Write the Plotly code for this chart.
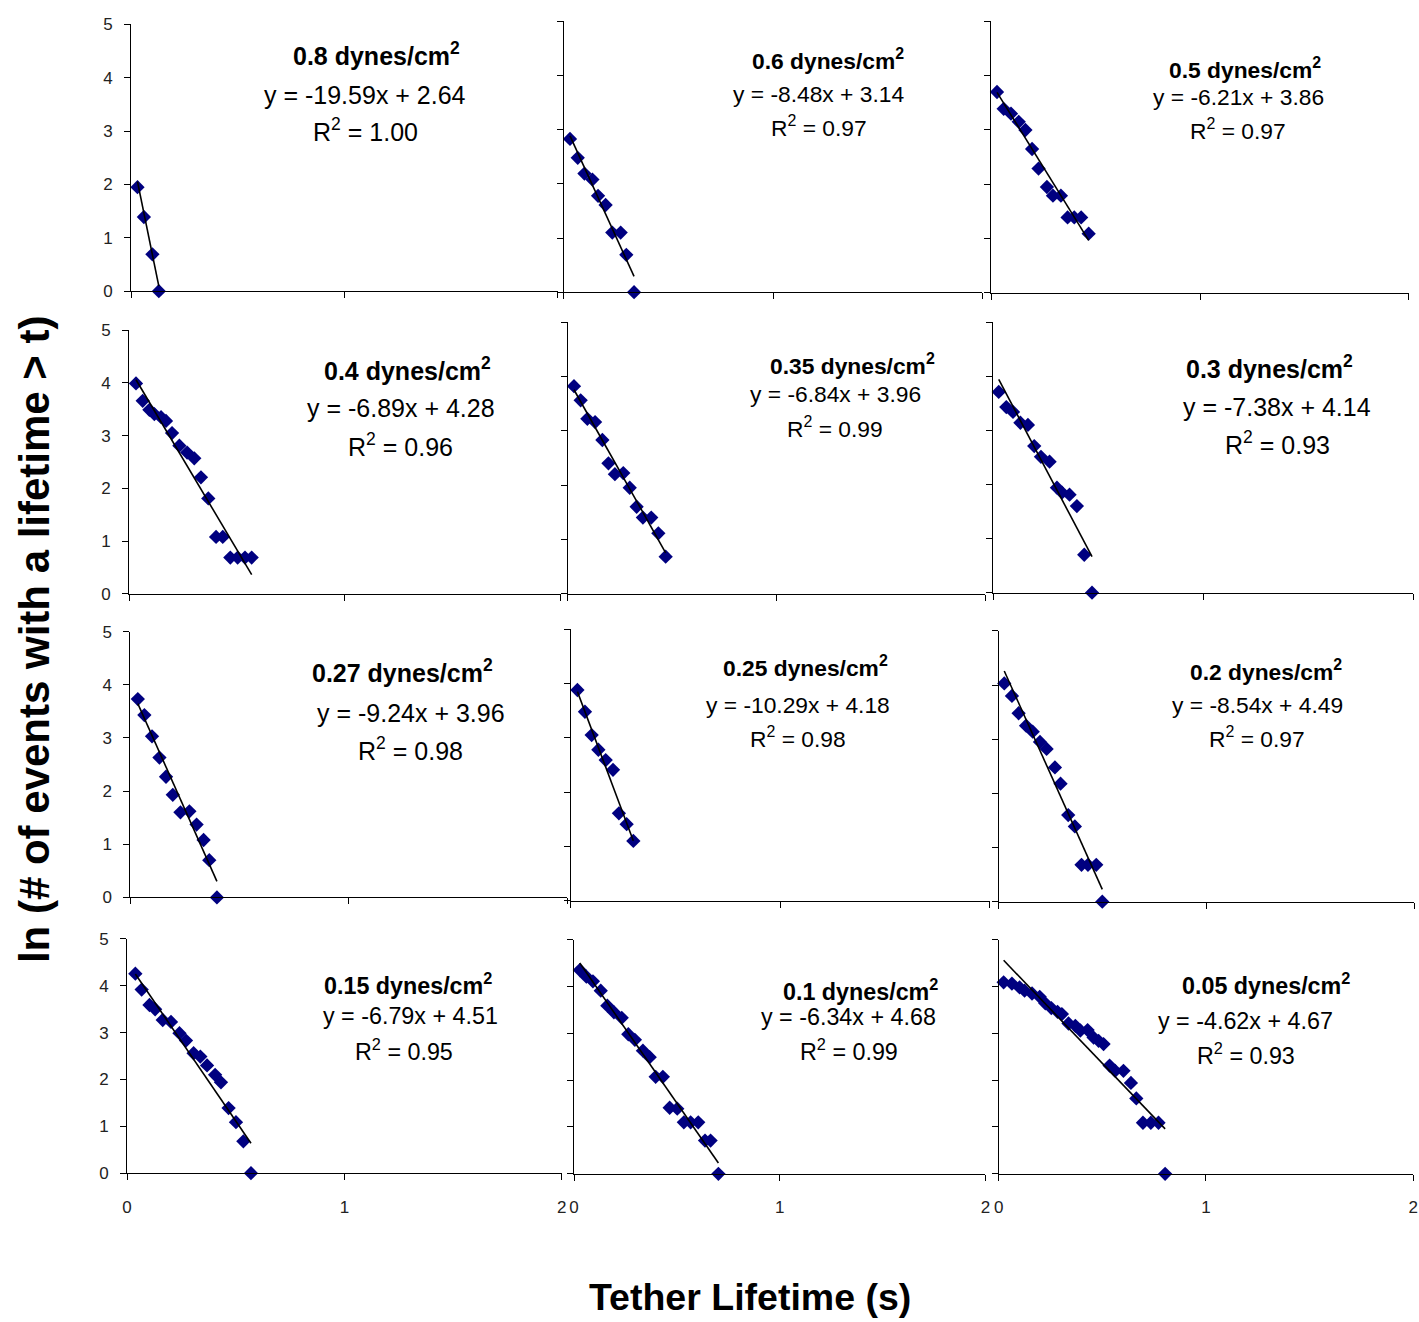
import plotly.graph_objects as go

W, H = 1419, 1322
FONT = "Liberation Sans, Arial, sans-serif"
# empirical correction of the page-to-picture mapping (measured on an earlier render)
A_X, C_X = 0.9938, 3.8
A_Y, C_Y = 0.9864, 7.6


def px_x(p):
    return ((p - C_X) / A_X) / W


def px_y(p):
    return 1 - ((p - C_Y) / A_Y) / H


# ---------------- data ----------------
shear_labels = ["0.8", "0.6", "0.5", "0.4", "0.35", "0.3",
                "0.27", "0.25", "0.2", "0.15", "0.1", "0.05"]

x_08 = [0.03, 0.06, 0.10, 0.13]
y_08 = [1.95, 1.39, 0.69, 0.0]

x_06 = [0.03, 0.067, 0.099, 0.137, 0.164, 0.20, 0.232, 0.272, 0.299, 0.336]
y_06 = [2.83, 2.48, 2.19, 2.08, 1.78, 1.61, 1.10, 1.10, 0.69, 0.0]

x_05 = [0.027, 0.059, 0.094, 0.131, 0.163, 0.195, 0.226, 0.266, 0.295, 0.333, 0.365, 0.397, 0.43, 0.466]
y_05 = [3.70, 3.39, 3.30, 3.15, 3.00, 2.65, 2.29, 1.95, 1.79, 1.79, 1.39, 1.39, 1.39, 1.09]

x_04 = [0.032, 0.063, 0.094, 0.117, 0.148, 0.171, 0.199, 0.233, 0.269, 0.302, 0.333, 0.367, 0.403, 0.434, 0.469, 0.503, 0.537, 0.568]
y_04 = [3.99, 3.66, 3.49, 3.41, 3.35, 3.28, 3.05, 2.81, 2.68, 2.57, 2.21, 1.81, 1.08, 1.08, 0.69, 0.69, 0.69, 0.69]

x_035 = [0.030, 0.062, 0.094, 0.131, 0.166, 0.195, 0.226, 0.266, 0.297, 0.330, 0.360, 0.400, 0.434, 0.469]
y_035 = [3.82, 3.56, 3.22, 3.16, 2.83, 2.40, 2.20, 2.22, 1.95, 1.60, 1.40, 1.40, 1.11, 0.68]

x_03 = [0.027, 0.063, 0.095, 0.130, 0.166, 0.196, 0.228, 0.269, 0.304, 0.328, 0.364, 0.399, 0.434, 0.471]
y_03 = [3.71, 3.43, 3.34, 3.14, 3.10, 2.71, 2.51, 2.42, 1.94, 1.85, 1.81, 1.60, 0.70, 0.0]

x_027 = [0.034, 0.064, 0.099, 0.133, 0.163, 0.194, 0.229, 0.270, 0.303, 0.335, 0.361, 0.396]
y_027 = [3.73, 3.43, 3.03, 2.63, 2.27, 1.93, 1.60, 1.62, 1.37, 1.08, 0.70, 0.0]

x_025 = [0.032, 0.068, 0.100, 0.132, 0.167, 0.202, 0.230, 0.267, 0.299]
y_025 = [3.88, 3.48, 3.05, 2.78, 2.59, 2.41, 1.61, 1.41, 1.10]

x_02 = [0.027, 0.064, 0.096, 0.132, 0.164, 0.199, 0.231, 0.271, 0.298, 0.335, 0.367, 0.399, 0.430, 0.470, 0.499]
y_02 = [4.03, 3.80, 3.48, 3.25, 3.14, 2.95, 2.82, 2.48, 2.18, 1.60, 1.39, 0.68, 0.68, 0.68, 0.0]

x_015 = [0.038, 0.067, 0.103, 0.129, 0.164, 0.202, 0.241, 0.271, 0.306, 0.337, 0.368, 0.405, 0.432, 0.467, 0.501, 0.535, 0.570]
y_015 = [4.26, 3.92, 3.59, 3.50, 3.27, 3.23, 2.99, 2.83, 2.56, 2.49, 2.30, 2.10, 1.94, 1.39, 1.09, 0.68, 0.0]

x_01 = [0.028, 0.060, 0.092, 0.130, 0.162, 0.194, 0.232, 0.264, 0.296, 0.335, 0.368, 0.397, 0.432, 0.465, 0.502, 0.534, 0.567, 0.604, 0.637, 0.664, 0.702]
y_01 = [4.35, 4.21, 4.11, 3.91, 3.59, 3.45, 3.33, 2.98, 2.86, 2.63, 2.49, 2.07, 2.07, 1.41, 1.39, 1.10, 1.10, 1.10, 0.71, 0.71, 0.0]

x_005 = [0.024, 0.064, 0.101, 0.125, 0.161, 0.198, 0.225, 0.254, 0.284, 0.305, 0.337, 0.370, 0.394, 0.429, 0.458, 0.482, 0.506, 0.535, 0.562, 0.602, 0.638, 0.664, 0.696, 0.734, 0.771, 0.803]
y_005 = [4.09, 4.06, 3.98, 3.91, 3.85, 3.78, 3.64, 3.54, 3.46, 3.41, 3.21, 3.16, 3.06, 3.07, 2.91, 2.84, 2.77, 2.31, 2.20, 2.20, 1.94, 1.61, 1.09, 1.09, 1.09, 0.0]

slopes = [-19.59, -8.48, -6.21, -6.89, -6.84, -7.38, -9.24, -10.29, -8.54, -6.79, -6.34, -4.62]
intercepts = [2.64, 3.14, 3.86, 4.28, 3.96, 4.14, 3.96, 4.18, 4.49, 4.51, 4.68, 4.67]
r_squared = ["1.00", "0.97", "0.97", "0.96", "0.99", "0.93", "0.98", "0.98", "0.97", "0.95", "0.99", "0.93"]

x_ticks = [0, 1, 2]
y_ticks = [0, 1, 2, 3, 4, 5]

series = [(x_08, y_08), (x_06, y_06), (x_05, y_05), (x_04, y_04), (x_035, y_035), (x_03, y_03),
          (x_027, y_027), (x_025, y_025), (x_02, y_02), (x_015, y_015), (x_01, y_01), (x_005, y_005)]

# ---------------- layout geometry (target picture pixels) ----------------
# (x at 0, x at 2, y at 0, y at 5)
frames = [
    (130, 557, 290, 23), (563, 982, 291, 20), (991, 1409, 291.7, 20),
    (128, 560, 593, 329), (567, 985, 592.7, 321), (992.7, 1413.3, 591.7, 321),
    (129.3, 566.7, 896.7, 630.7), (570, 989.3, 900, 628.3), (998.3, 1416.7, 901, 630),
    (126, 561, 1172.7, 938.3), (573.3, 985, 1173.3, 939), (998.3, 1413.3, 1173.3, 939),
]
BIG, SMALL, LOW = 25, 22.8, 23.3
# annotation centres: title (x,y), equation (x,y), R2 (x,y), font size
ann_pos = [
    ((376, 53), (364, 94), (365, 129), BIG),
    ((828, 58), (818, 93), (818, 125), SMALL),
    ((1245, 67), (1238, 96), (1238, 128), SMALL),
    ((407, 368), (400, 407), (400, 444), BIG),
    ((852, 363), (835, 393), (835, 426), SMALL),
    ((1269, 366), (1277, 406), (1277, 442), BIG),
    ((402, 670), (410, 712), (410, 748), BIG),
    ((805, 666), (797, 704), (797, 737), SMALL),
    ((1266, 670), (1257, 704), (1257, 737), SMALL),
    ((407, 983), (410, 1015), (403, 1049), LOW),
    ((860, 989), (848, 1016), (849, 1049), LOW),
    ((1266, 983), (1245, 1020), (1246, 1053), LOW),
]

fig = go.Figure()
layout = {}
annotations = []

for i, ((xs, ys), (l, r, b, t)) in enumerate(zip(series, frames)):
    n = i + 1
    suffix = "" if n == 1 else str(n)
    xa, ya = "x" + suffix, "y" + suffix
    row, col = divmod(i, 3)

    fig.add_trace(go.Scatter(
        x=xs, y=ys, mode="markers", xaxis=xa, yaxis=ya, cliponaxis=False,
        marker=dict(symbol="diamond", size=11, color="#000080", line=dict(width=0)),
        showlegend=False, hoverinfo="x+y"))
    x_lo, x_hi = min(xs), max(xs)
    fig.add_trace(go.Scatter(
        x=[x_lo, x_hi], y=[slopes[i] * x_lo + intercepts[i], slopes[i] * x_hi + intercepts[i]],
        mode="lines", xaxis=xa, yaxis=ya, cliponaxis=False,
        line=dict(color="black", width=1.6), showlegend=False, hoverinfo="skip"))

    axis_common = dict(ticks="outside", ticklen=6, tickcolor="black", tickwidth=1,
                       showline=True, linecolor="black", linewidth=1,
                       showgrid=False, zeroline=False, fixedrange=True,
                       tickfont=dict(family=FONT, size=17, color="#222222"))
    layout["xaxis" + suffix] = dict(
        axis_common, domain=[px_x(l), min(px_x(r), 1.0)], range=[0, 2], anchor=ya,
        tickvals=x_ticks, showticklabels=(row == 3), ticklabelstandoff=12)
    layout["yaxis" + suffix] = dict(
        axis_common, domain=[px_y(b), min(px_y(t), 1.0)], range=[0, 5], anchor=xa,
        tickvals=y_ticks, showticklabels=(col == 0), ticklabelstandoff=8)

    (tx, ty), (ex, ey), (rx, ry), fs = ann_pos[i]
    sign = "+" if intercepts[i] >= 0 else "-"
    texts = [
        (tx, ty, "<b>%s dynes/cm<sup>2</sup></b>" % shear_labels[i]),
        (ex, ey, "y = %.2fx %s %.2f" % (slopes[i], sign, abs(intercepts[i]))),
        (rx, ry, "R<sup>2</sup> = %s" % r_squared[i]),
    ]
    for (px, py, txt) in texts:
        annotations.append(dict(
            x=px_x(px), y=px_y(py), xref="paper", yref="paper", text=txt,
            showarrow=False, xanchor="center", yanchor="middle",
            font=dict(family=FONT, size=fs, color="black")))

annotations.append(dict(
    x=px_x(34), y=px_y(638), xref="paper", yref="paper",
    text="<b>ln (# of events with a lifetime > t)</b>", textangle=-90,
    showarrow=False, xanchor="center", yanchor="middle",
    font=dict(family=FONT, size=42, color="black")))
annotations.append(dict(
    x=px_x(749), y=px_y(1297), xref="paper", yref="paper",
    text="<b>Tether Lifetime (s)</b>",
    showarrow=False, xanchor="center", yanchor="middle",
    font=dict(family=FONT, size=37.5, color="black")))

fig.update_layout(
    width=W, height=H, margin=dict(l=0, r=0, t=0, b=0),
    paper_bgcolor="white", plot_bgcolor="white",
    annotations=annotations, showlegend=False,
    **layout)

fig.write_html("out.html", config={"displayModeBar": False},
               post_script="document.body.style.margin='0';")
